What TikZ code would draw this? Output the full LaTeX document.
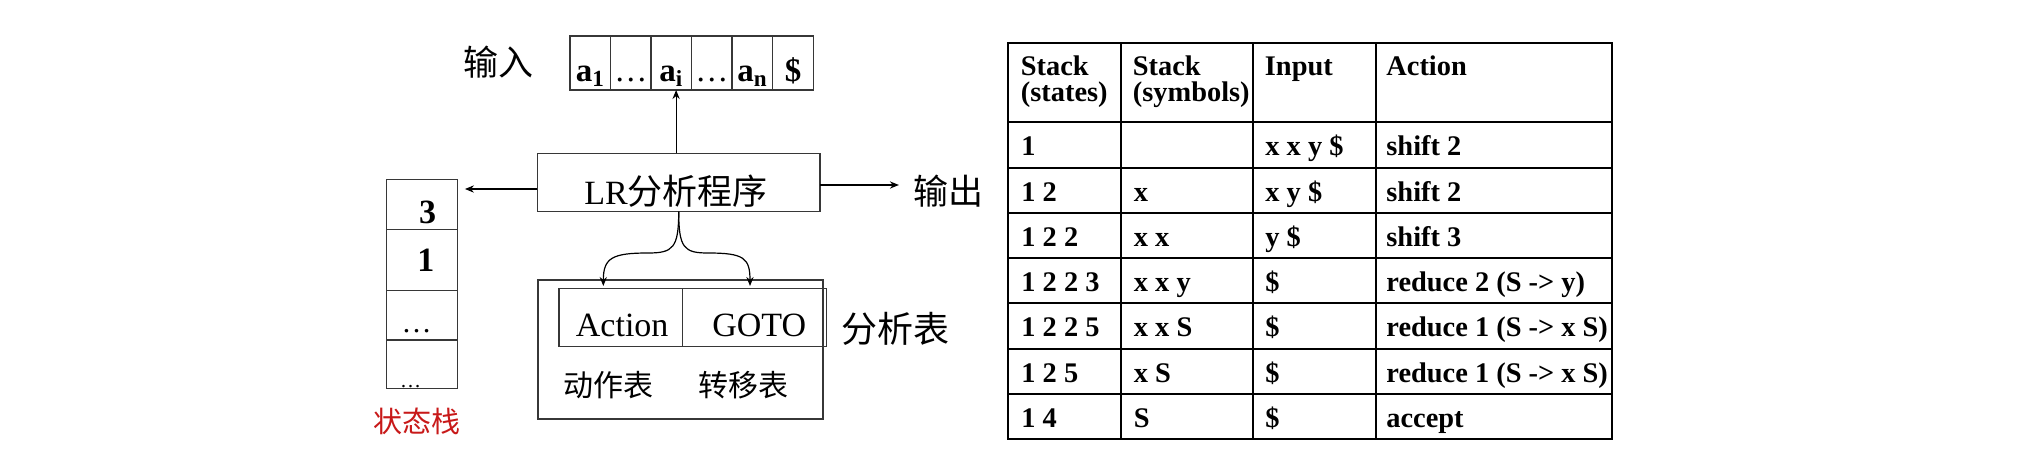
\documentclass[tikz,border=0pt]{standalone}
\usepackage{fontspec}
\setmainfont{Liberation Serif}
\newfontfamily\cjk{Noto Sans CJK SC}
\usetikzlibrary{arrows.meta}
\definecolor{lbl}{RGB}{200,25,25}
\definecolor{ln}{RGB}{55,55,55}
\begin{document}
\begin{tikzpicture}[x=0.5pt,y=-0.5pt,
  box/.style={draw=ln,line width=0.7pt,inner sep=0pt,outer sep=0pt},
  cell/.style={box,minimum width=20.27pt,minimum height=27pt,text height=18.7pt,text depth=0pt,font=\fontsize{16.5}{18}\selectfont\bfseries},
  arr/.style={draw=black,line width=0.6pt,-{Stealth[length=4.5pt,width=3.6pt]}},
  zh/.style={inner sep=0pt,font=\fontsize{#1}{#1}\selectfont\cjk},
  lat/.style={anchor=base,inner sep=0pt,font=\fontsize{#1}{#1}\selectfont},
  tb/.style={anchor=base west,inner sep=0pt,font=\fontsize{14.2}{14.2}\selectfont\bfseries},
  gridline/.style={line width=1pt,draw=black}
]
\useasboundingbox[fill=white] (0,0) rectangle (2021,455);

% input tape
\node[zh=17.5] (in) at (498.3,61.7) {输入};
\node[cell] (t1) at (590.3,63) {a\textsubscript{1}};
\node[cell,font=\fontsize{16.5}{18}\selectfont] (t2) at (630.8,63) {…};
\node[cell] (t3) at (671.4,63) {a\textsubscript{i}};
\node[cell,font=\fontsize{16.5}{18}\selectfont] (t4) at (711.9,63) {…};
\node[cell] (t5) at (752.5,63) {a\textsubscript{n}};
\node[cell] (t6) at (793.0,63) {\$};

% LR program
\node[box,minimum width=141.35pt,minimum height=29.1pt] (lr) at (678.7,182.4) {};
\node[anchor=base,inner sep=0pt] (lrt) at (676,204) {\fontsize{17}{18}\selectfont LR\fontsize{17.5}{18}\selectfont\cjk 分析程序};
\node[zh=17.5] (out) at (948.3,191) {输出};

% state stack
\node[box,minimum width=35.4pt,minimum height=25pt] (s1) at (422,204.3) {};
\node[box,minimum width=35.4pt,minimum height=30.7pt] (s2) at (422,260) {};
\node[box,minimum width=35.4pt,minimum height=24.65pt] (s3) at (422,315.35) {};
\node[box,minimum width=35.4pt,minimum height=24.15pt] (s4) at (422,364.15) {};
\node[lat=17,font=\fontsize{17}{17}\selectfont\bfseries] (n3) at (427.5,223.3) {3};
\node[lat=17,font=\fontsize{17}{17}\selectfont\bfseries] (n1) at (425.8,271.7) {1};
\node[lat=15] (d3) at (416.7,332) {…};
\node[lat=10.5] (d4) at (410.7,387) {…};
\node[zh=14.5,text=lbl] (stl) at (416.7,421.7) {状态栈};

% parse table
\node[box,line width=0.9pt,minimum width=142.8pt,minimum height=69.65pt] (tbl) at (680.5,349.65) {};
\node[box,minimum width=61.65pt,minimum height=29.2pt] (act) at (620.65,317.5) {};
\node[box,minimum width=72.2pt,minimum height=29.2pt] (gto) at (754.5,317.5) {};
\node[lat=17] (actt) at (622.2,336.7) {Action};
\node[lat=17] (gtot) at (759.2,336.7) {GOTO};
\node[zh=18] (fxb) at (895.8,329) {分析表};
\node[zh=15] (dzb) at (608,385) {动作表};
\node[zh=15] (zyb) at (743.3,385) {转移表};

% arrows
\coordinate (up) at ([xshift=-1.3pt]lr.north);
\draw[arr] (up) -- (up |- t3.south);
\coordinate (lw) at ([yshift=-3.3pt]lr.west);
\draw[arr,shorten >=3.75pt] (lw) -- (lw -| s1.east);
\coordinate (le) at ([yshift=-1.3pt]lr.east);
\draw[arr,line width=0.9pt,shorten >=7pt] (le) -- (le -| out.west);
\coordinate (ta) at (603.3,286);
\coordinate (tg) at (750,286);
\draw[arr] (lr.south) .. controls (678.7,248) and (673,253) .. (648,253) .. controls (612,253) and (603.3,258) .. (ta);
\draw[arr] (lr.south) .. controls (678.7,248) and (684,253) .. (708,253) .. controls (744,253) and (750,258) .. (tg);

% trace table
\draw[gridline] (1008.3,43.3) rectangle (1611.7,439.3);
\foreach \x in {1121,1253.3,1376} \draw[gridline] (\x,43.3) -- (\x,439.3);
\foreach \y in {122.3,168.3,213.3,258.3,303.3,349,394} \draw[gridline] (1008.3,\y) -- (1611.7,\y);
\node[tb] (h1a) at (1020.5,75.7) {Stack};
\node[tb] (h1b) at (1020.5,101.7) {(states)};
\node[tb] (h2a) at (1132.5,75.7) {Stack};
\node[tb] (h2b) at (1132.5,101.7) {(symbols)};
\node[tb] (h3) at (1264.5,75.7) {Input};
\node[tb] (h4) at (1386,75.7) {Action};
\foreach \r/\yb/\a/\b/\c/\d in {
  1/155.3/1//x x y \$/shift 2,
  2/201.3/1 2/x/x y \$/shift 2,
  3/246.3/1 2 2/x x/y \$/shift 3,
  4/291.3/1 2 2 3/x x y/\$/reduce 2 (S -> y),
  5/336.3/1 2 2 5/x x S/\$/reduce 1 (S -> x S),
  6/382/1 2 5/x S/\$/reduce 1 (S -> x S),
  7/427/1 4/S/\$/accept}{
  \node[tb] (r\r c1) at (1021,\yb) {\a};
  \node[tb] (r\r c2) at (1133.5,\yb) {\b};
  \node[tb] (r\r c3) at (1265,\yb) {\c};
  \node[tb] (r\r c4) at (1386,\yb) {\d};
}
\end{tikzpicture}
\end{document}
